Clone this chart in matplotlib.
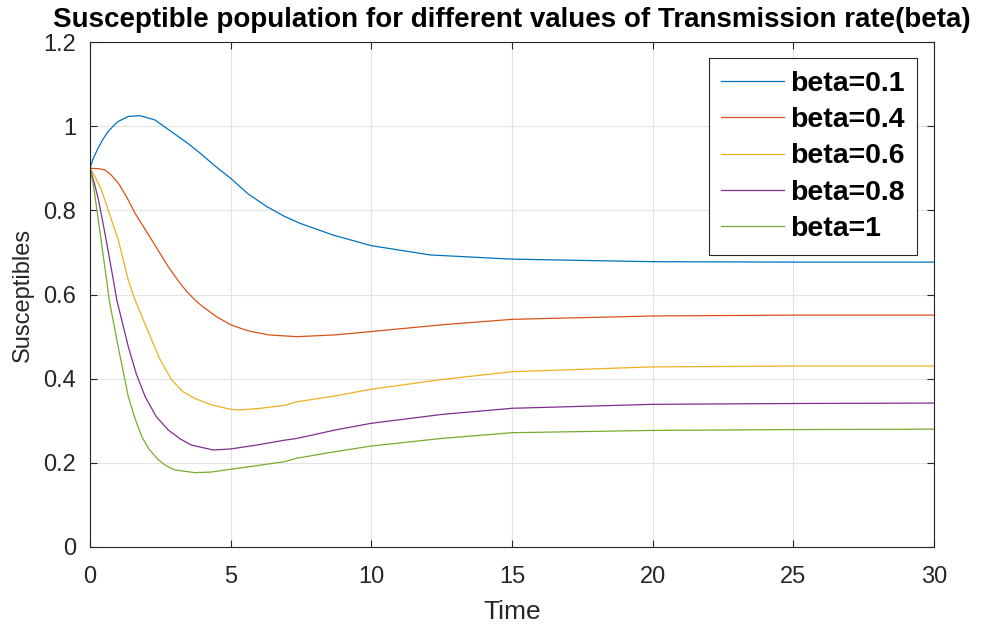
import matplotlib.pyplot as plt
import numpy as np
from matplotlib.ticker import FuncFormatter

# values
t_b01 = [0, 0.1, 0.28, 0.45, 0.64, 0.82, 1.0, 1.35, 1.77, 2.3, 2.89, 3.48, 3.91, 4.45, 5.0, 5.6, 6.28, 6.9, 7.47, 8.65, 10.0, 12.09, 15.0, 20.0, 25.0, 30.0]
s_b01 = [0.9, 0.921, 0.947, 0.968, 0.987, 1.0, 1.011, 1.023, 1.025, 1.015, 0.987, 0.959, 0.936, 0.905, 0.876, 0.84, 0.809, 0.786, 0.769, 0.741, 0.716, 0.694, 0.684, 0.678, 0.677, 0.677]

t_b04 = [0, 0.3, 0.53, 0.75, 1.01, 1.3, 1.6, 2.19, 2.78, 3.14, 3.45, 3.73, 3.97, 4.5, 5.0, 5.6, 6.34, 7.35, 8.71, 10.0, 12.5, 15.0, 20.0, 25.0, 30.0]
s_b04 = [0.9, 0.899, 0.896, 0.884, 0.864, 0.832, 0.793, 0.73, 0.666, 0.632, 0.606, 0.587, 0.573, 0.547, 0.528, 0.514, 0.504, 0.4998, 0.504, 0.512, 0.528, 0.541, 0.549, 0.551, 0.551]

t_b06 = [0, 0.2, 0.41, 0.7, 1.0, 1.36, 1.6, 2.19, 2.5, 2.9, 3.3, 3.73, 4.3, 5.0, 5.27, 6.0, 6.93, 7.35, 8.71, 10.0, 12.5, 15.0, 20.0, 25.0, 30.0]
s_b06 = [0.9, 0.877, 0.848, 0.79, 0.73, 0.634, 0.587, 0.492, 0.444, 0.397, 0.369, 0.353, 0.338, 0.327, 0.3256, 0.329, 0.337, 0.345, 0.359, 0.375, 0.398, 0.4166, 0.428, 0.43, 0.43]

t_b08 = [0, 0.15, 0.3, 0.53, 0.83, 0.95, 1.36, 1.65, 1.96, 2.35, 2.78, 3.2, 3.61, 4.38, 5.0, 5.9, 6.93, 7.35, 8.71, 10.0, 12.5, 15.0, 20.0, 25.0, 30.0]
s_b08 = [0.9, 0.865, 0.825, 0.745, 0.634, 0.587, 0.476, 0.41, 0.357, 0.31, 0.278, 0.257, 0.242, 0.2305, 0.233, 0.242, 0.254, 0.258, 0.278, 0.294, 0.315, 0.3296, 0.339, 0.341, 0.342]

t_b1 = [0, 0.12, 0.36, 0.59, 0.68, 1.0, 1.36, 1.6, 1.84, 2.1, 2.43, 2.7, 3.02, 3.73, 4.3, 5.0, 6.0, 6.93, 7.35, 8.71, 10.0, 12.5, 15.0, 20.0, 25.0, 30.0]
s_b1 = [0.9, 0.86, 0.745, 0.634, 0.587, 0.476, 0.357, 0.305, 0.262, 0.232, 0.207, 0.193, 0.183, 0.1766, 0.178, 0.1847, 0.194, 0.203, 0.211, 0.2265, 0.24, 0.258, 0.2716, 0.277, 0.279, 0.28]

labels = ['beta=0.1', 'beta=0.4', 'beta=0.6', 'beta=0.8', 'beta=1']
colors = ['#0072BD', '#D95319', '#EDB120', '#7E2F8E', '#77AC30']

plt.rcParams['font.family'] = ['Liberation Sans', 'DejaVu Sans']

fig = plt.figure(figsize=(9.82, 6.27), dpi=100)
ax = fig.add_axes([0.0917, 0.1276, 0.8595, 0.8054])

series = [(t_b01, s_b01), (t_b04, s_b04), (t_b06, s_b06), (t_b08, s_b08), (t_b1, s_b1)]
for (t, s), lab, c in zip(series, labels, colors):
    ax.plot(t, s, color=c, lw=0.9, label=lab)

ax.set_xlim(0, 30)
ax.set_ylim(0, 1.2)
ax.set_xticks(np.arange(0, 31, 5))
ax.set_yticks(np.arange(0, 1.21, 0.2))
ax.yaxis.set_major_formatter(FuncFormatter(lambda v, p: f'{v:g}'))
ax.grid(True, color='#e3e3e3', lw=0.8)
ax.set_axisbelow(True)
for sp in ax.spines.values():
    sp.set_color('#262626')
    sp.set_linewidth(0.8)
ax.tick_params(direction='in', length=5, width=0.8, color='#262626', labelcolor='#262626',
               labelsize=17, top=True, right=True)
ax.tick_params(axis='x', pad=14)
ax.tick_params(axis='y', pad=10)

ax.set_title('Susceptible population for different values of Transmission rate(beta)',
             fontsize=20, fontweight='bold', pad=11)
ax.set_xlabel('Time', fontsize=19, color='#262626', labelpad=8)
ax.set_ylabel('Susceptibles', fontsize=17, color='#262626', labelpad=7)

leg = ax.legend(loc='upper right', bbox_to_anchor=(0.98, 0.968), fancybox=False,
                edgecolor='#262626', framealpha=1, borderaxespad=0,
                prop={'size': 20.5, 'weight': 'bold'}, handlelength=2.2,
                handletextpad=0.2, labelspacing=0.36, borderpad=0.45)
leg.get_frame().set_linewidth(0.8)

fig.savefig('out.png', dpi=100)
